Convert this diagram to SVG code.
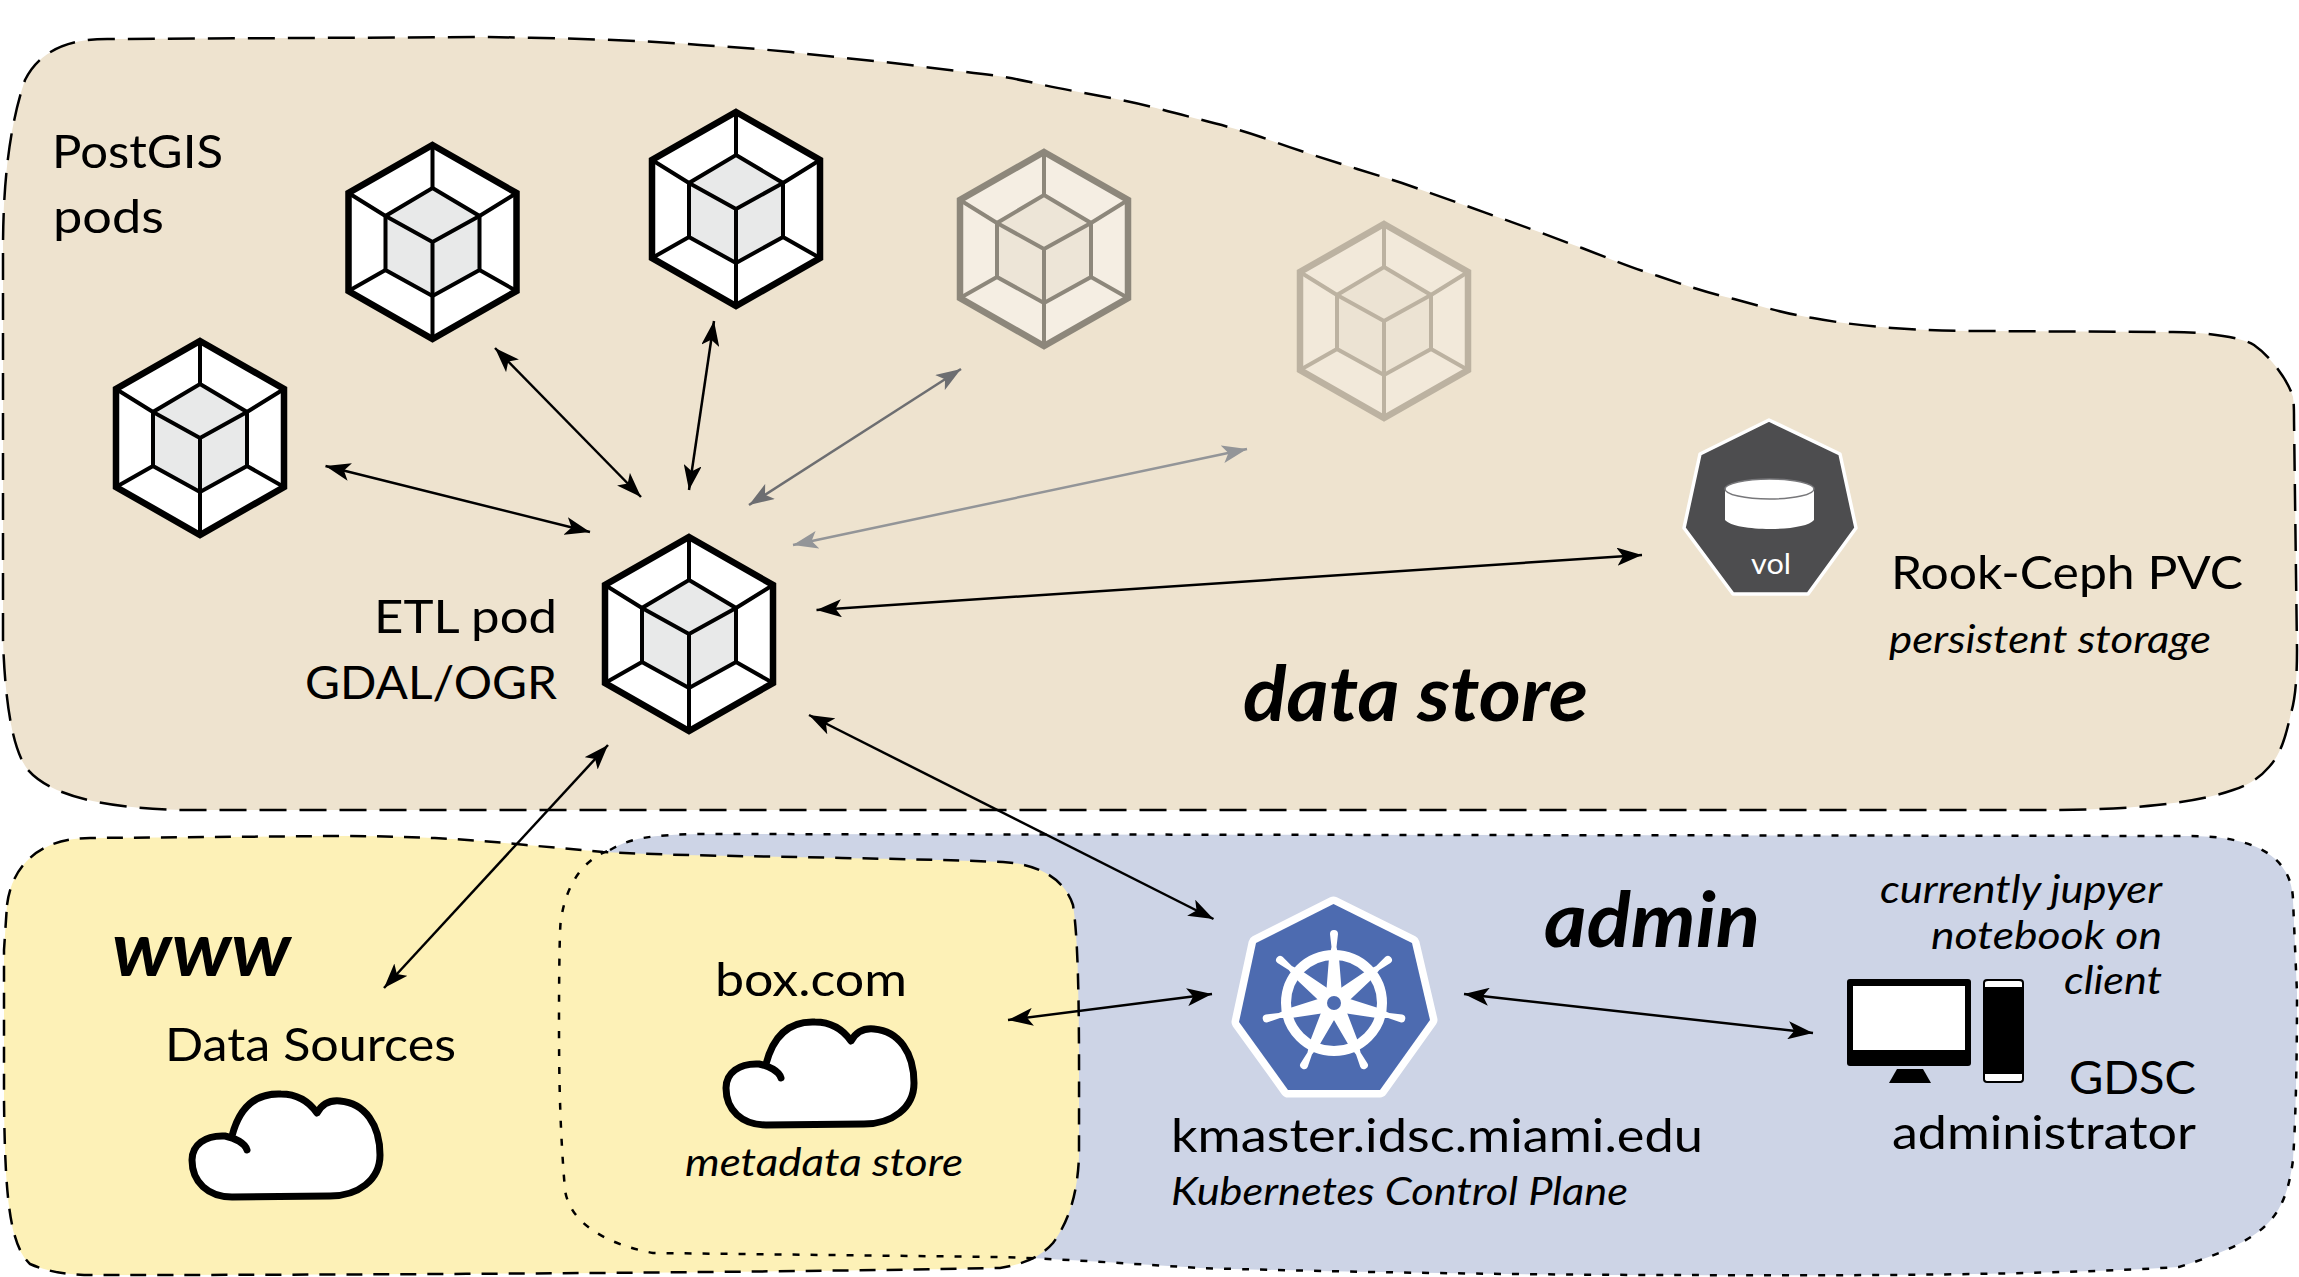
<svg xmlns="http://www.w3.org/2000/svg" width="2299" height="1277" viewBox="0 0 2299 1277">
<style>
text{font-family:"Lato","Open Sans","Liberation Sans",sans-serif;fill:#000;}
.m{font-size:47px;}
.t{font-size:45.5px;}
.i{font-size:38px;font-style:italic;}
.b{font-size:76px;font-style:italic;font-weight:700;}
.hx{--s:#000;--w:#fff;--c:#e8e9e9;}
.hx4{--s:#8d877b;--w:#f5eee3;--c:#ede5d7;}
.hx5{--s:#bcb2a1;--w:#f2e9da;--c:#ece3d3;}
.ho{fill:var(--w);stroke:var(--s);stroke-width:6.5;stroke-linejoin:miter;}
.hi{fill:var(--c);stroke:var(--s);stroke-width:4;stroke-linejoin:miter;}
.hl{fill:none;stroke:var(--s);stroke-width:4;}
.cn{fill:none;stroke:#000;stroke-width:2.5;marker-start:url(#ah);marker-end:url(#ah);}
.cn4{stroke:#6d6e71;marker-start:url(#ah4);marker-end:url(#ah4);}
.cn5{stroke:#939598;marker-start:url(#ah5);marker-end:url(#ah5);}
.cl{fill:#fff;stroke:#000;stroke-width:7;stroke-linejoin:round;stroke-linecap:round;}
</style>
<defs>
<marker id="ah" markerUnits="userSpaceOnUse" markerWidth="26" markerHeight="18" refX="25" refY="9" orient="auto-start-reverse"><path d="M0,0 L25,9 L0,18 L6,9 Z" fill="#000"/></marker>
<marker id="ah4" markerUnits="userSpaceOnUse" markerWidth="26" markerHeight="18" refX="25" refY="9" orient="auto-start-reverse"><path d="M0,0 L25,9 L0,18 L6,9 Z" fill="#6d6e71"/></marker>
<marker id="ah5" markerUnits="userSpaceOnUse" markerWidth="26" markerHeight="18" refX="25" refY="9" orient="auto-start-reverse"><path d="M0,0 L25,9 L0,18 L6,9 Z" fill="#939598"/></marker>
<g id="hex">
<polygon class="ho" points="0,-97 84,-49 84,49 0,97 -84,49 -84,-49"/>
<polygon class="hi" points="0,-54 47,-26 47,28 0,54 -47,28 -47,-26"/>
<path class="hl" d="M0,-97V-54M84,-49L47,-26M84,49L47,28M0,97V54M-84,49L-47,28M-84,-49L-47,-26M0,0V54M0,0L47,-26M0,0L-47,-26"/>
</g>
<path id="cloud" class="cl" d="M232,1136 C240,1105 258,1093 281,1094 C298,1094 310,1103 317,1113 C322,1104 330,1100 340,1101 C365,1103 380,1125 380,1155 C380,1180 358,1196 330,1196 L232,1197 C208,1197 192,1182 192,1160 C192,1145 205,1135 225,1136 C235,1138 245,1143 247,1150"/>
<path id="spoke" fill="#fff" d="M-8,-8 L-5,-45 L-2.5,-56 L-4,-69 A4,4 0 0,1 4,-69 L2.5,-56 L5,-45 L8,-8 Z"/>
</defs>

<path id="region-data-store" fill="#eee3cf" stroke="#000" stroke-width="2.5" stroke-dasharray="27 13" d="M3,640 L3,250 C3,190 8,130 25,80 C40,50 70,38 112,39 L485,37 C560,38 640,40 700,45 C730,47 760,49 791,52 C830,57 870,60 910,65 C950,71 990,73 1030,82 C1072,92 1115,97 1156,108 C1192,118 1226,125 1261,137 C1310,155 1355,168 1402,183 C1450,200 1495,216 1542,233 C1555,238 1568,243 1582,248 C1608,258 1632,268 1658,276 C1684,285 1708,293 1734,299 C1760,306 1786,314 1813,318 C1840,323 1866,326 1892,328 C1920,330 1946,331 1974,331 L2173,332 C2200,332 2240,336 2254,345 C2270,356 2288,380 2293,397 C2294,404 2294,412 2294,420 L2297,650 C2297,680 2295,700 2291,713 C2285,740 2280,755 2269,767 C2258,780 2245,786 2233,790 C2210,798 2185,802 2157,805 C2120,809 2080,810 2046,810 L183,810 C100,808 50,795 28,770 C12,750 5,700 3,640 Z"/>
<path id="region-admin-fill" fill="#cdd4e6" d="M610,850 C630,838 650,835 700,834 L2190,836 C2260,836 2292,860 2293,900 L2297,993 C2297,1080 2295,1130 2293,1160 C2285,1220 2265,1240 2179,1267 C2050,1275 1850,1276 1680,1275 C1500,1275 1300,1271 1200,1268 C1120,1263 1060,1259 1000,1257 L653,1253 C610,1245 570,1225 565,1190 C560,1130 559,1080 559,1021 C559,960 560,920 561,920 C565,890 580,860 610,850Z"/>
<path id="region-www" fill="#fdf1b7" stroke="#000" stroke-width="2.5" stroke-dasharray="16 11" d="M7,905 C12,865 40,838 90,838 L333,836 C400,836 460,838 526,845 C560,848 580,850 603,852 C680,856 760,856 842,858 C900,859 950,860 1003,862 C1040,864 1065,880 1073,905 C1080,950 1079,1050 1079,1155 C1078,1190 1070,1220 1053,1243 C1040,1258 1020,1265 1000,1268 C800,1272 400,1275 119,1275 C90,1275 60,1277 30,1264 C10,1245 5,1200 4,1100 L4,950 Z"/>
<path id="region-admin" fill="none" stroke="#000" stroke-width="2.5" stroke-dasharray="7 11" d="M610,850 C630,838 650,835 700,834 L2190,836 C2260,836 2292,860 2293,900 L2297,993 C2297,1080 2295,1130 2293,1160 C2285,1220 2265,1240 2179,1267 C2050,1275 1850,1276 1680,1275 C1500,1275 1300,1271 1200,1268 C1120,1263 1060,1259 1000,1257 L653,1253 C610,1245 570,1225 565,1190 C560,1130 559,1080 559,1021 C559,960 560,920 561,920 C565,890 580,860 610,850Z"/>

<g id="connectors">
<line class="cn" x1="325.5" y1="466" x2="590" y2="532"/>
<line class="cn" x1="495" y1="348" x2="641" y2="497"/>
<line class="cn" x1="714" y1="321" x2="689" y2="490"/>
<line class="cn cn4" x1="961" y1="369" x2="749" y2="505"/>
<line class="cn cn5" x1="1247" y1="449" x2="793" y2="545"/>
<line class="cn" x1="816.5" y1="610" x2="1642" y2="555"/>
<line class="cn" x1="809" y1="715" x2="1213.5" y2="919"/>
<line class="cn" x1="608" y1="745" x2="384" y2="988"/>
<line class="cn" x1="1008" y1="1020" x2="1212" y2="994"/>
<line class="cn" x1="1464" y1="994" x2="1813" y2="1033"/>
</g>

<g id="pod-1"><use href="#hex" class="hx" transform="translate(200,438)"/></g>
<g id="pod-2"><use href="#hex" class="hx" transform="translate(432.5,242)"/></g>
<g id="pod-3"><use href="#hex" class="hx" transform="translate(736,209)"/></g>
<g id="pod-4"><use href="#hex" class="hx4" transform="translate(1044,249)"/></g>
<g id="pod-5"><use href="#hex" class="hx5" transform="translate(1384,321)"/></g>
<g id="etl-pod"><use href="#hex" class="hx" transform="translate(689,634)"/>
<text class="m" x="374" y="633" textLength="183" lengthAdjust="spacingAndGlyphs">ETL pod</text>
<text class="m" x="305" y="699" textLength="252" lengthAdjust="spacingAndGlyphs">GDAL/OGR</text></g>
<g id="postgis-label">
<text class="m" x="52" y="168" textLength="171" lengthAdjust="spacingAndGlyphs">PostGIS</text>
<text class="m" x="53" y="233" textLength="111" lengthAdjust="spacingAndGlyphs">pods</text></g>

<g id="vol">
<polygon points="1769,420 1840,454 1856,528 1808,594 1733,594 1684,528 1700,454" fill="#4d4d4f" stroke="#fff" stroke-width="3.5" stroke-linejoin="round"/>
<path d="M1725,490 V520 C1735,532 1805,532 1814,520 V490 Z" fill="#fff"/>
<ellipse cx="1769.5" cy="489" rx="44.5" ry="10" fill="#fff" stroke="#77777a" stroke-width="1.5"/>
<text x="1751" y="574" font-size="28" style="fill:#fff" textLength="40" lengthAdjust="spacingAndGlyphs">vol</text>
</g>
<g id="rook-label">
<text class="m" x="1891" y="589" textLength="352" lengthAdjust="spacingAndGlyphs">Rook-Ceph PVC</text>
<text class="i" x="1889" y="653" textLength="322" lengthAdjust="spacingAndGlyphs">persistent storage</text></g>
<text class="b" x="1243" y="721" textLength="345" lengthAdjust="spacingAndGlyphs">data store</text>

<g id="data-sources">
<text class="b" x="112" y="976" textLength="179" lengthAdjust="spacingAndGlyphs">www</text>
<text class="m" x="165" y="1061" textLength="291" lengthAdjust="spacingAndGlyphs">Data Sources</text>
<use href="#cloud"/></g>
<g id="box">
<text class="m" x="715" y="996" textLength="192" lengthAdjust="spacingAndGlyphs">box.com</text>
<use href="#cloud" transform="translate(534,-72)"/>
<text class="i" x="685" y="1176" textLength="278" lengthAdjust="spacingAndGlyphs">metadata store</text></g>

<g id="kmaster">
<polygon points="1333.5,904 1412,943 1430,1020 1380,1090 1288,1090 1239,1022 1256,943" fill="#4d6bb0" stroke="#fff" stroke-width="15" stroke-linejoin="round" paint-order="stroke"/>
<circle cx="1334" cy="1003" r="48" fill="none" stroke="#fff" stroke-width="10"/>
<use href="#spoke" transform="translate(1334,1003)"/>
<use href="#spoke" transform="translate(1334,1003) rotate(51.4)"/>
<use href="#spoke" transform="translate(1334,1003) rotate(102.9)"/>
<use href="#spoke" transform="translate(1334,1003) rotate(154.3)"/>
<use href="#spoke" transform="translate(1334,1003) rotate(-51.4)"/>
<use href="#spoke" transform="translate(1334,1003) rotate(-102.9)"/>
<use href="#spoke" transform="translate(1334,1003) rotate(-154.3)"/>
<circle cx="1334" cy="1003" r="14" fill="#fff"/>
<circle cx="1334" cy="1003" r="7" fill="#4d6bb0"/>
<text class="m" x="1171" y="1152" textLength="532" lengthAdjust="spacingAndGlyphs">kmaster.idsc.miami.edu</text>
<text class="i" x="1171" y="1205" textLength="457" lengthAdjust="spacingAndGlyphs">Kubernetes Control Plane</text></g>
<text class="b" x="1544" y="947" textLength="216" lengthAdjust="spacingAndGlyphs">admin</text>

<g id="gdsc">
<rect x="1847" y="979" width="124" height="87" rx="3" fill="#000"/>
<rect x="1853" y="986" width="112" height="64" fill="#fff"/>
<path d="M1897,1069 H1923 L1931,1083 H1889 Z" fill="#000"/>
<rect x="1983" y="979" width="41" height="104" rx="4" fill="#000"/>
<path d="M1985,987 V983 Q1985,981 1988,981 H2019 Q2022,981 2022,983 V987 Z M1985,1074 H2022 V1079 Q2022,1081 2019,1081 H1988 Q1985,1081 1985,1079 Z" fill="#fff"/>
<text class="i" x="1880" y="903" textLength="282" lengthAdjust="spacingAndGlyphs">currently jupyer</text>
<text class="i" x="1931" y="949" textLength="231" lengthAdjust="spacingAndGlyphs">notebook on</text>
<text class="i" x="2064" y="994" textLength="98" lengthAdjust="spacingAndGlyphs">client</text>
<text class="t" x="2069" y="1094" textLength="127" lengthAdjust="spacingAndGlyphs">GDSC</text>
<text class="t" x="1892" y="1149" textLength="304" lengthAdjust="spacingAndGlyphs">administrator</text></g>
</svg>
